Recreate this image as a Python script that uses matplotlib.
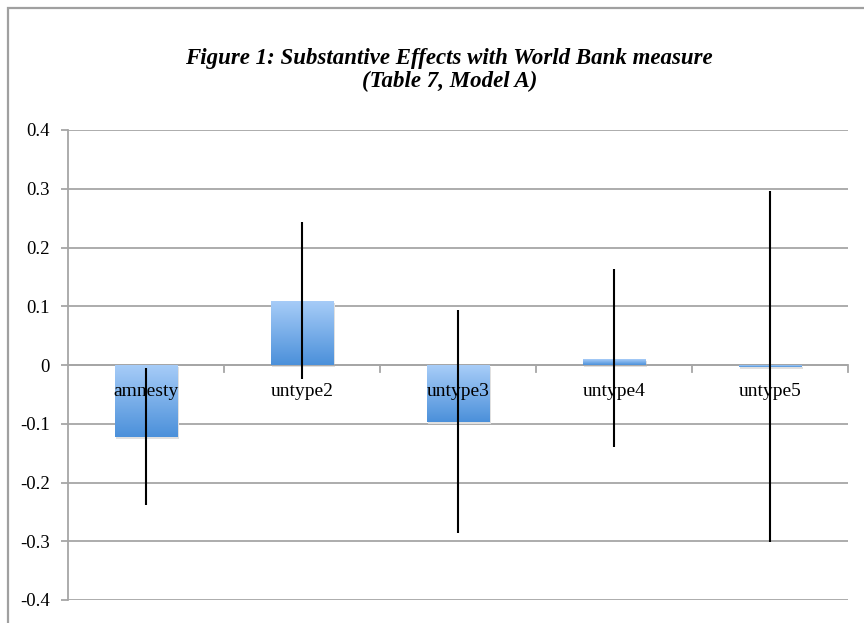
import matplotlib
matplotlib.use("Agg")
import matplotlib.pyplot as plt
import numpy as np
from matplotlib.patches import Rectangle

# values
categories = ["amnesty", "untype2", "untype3", "untype4", "untype5"]
effects = [-0.123, 0.109, -0.097, 0.010, -0.003]
upper = [-0.005, 0.243, 0.094, 0.163, 0.296]
lower = [-0.238, -0.024, -0.286, -0.140, -0.301]
yticks = [-0.4, -0.3, -0.2, -0.1, 0, 0.1, 0.2, 0.3, 0.4]
ytick_labels = ["-0.4", "-0.3", "-0.2", "-0.1", "0", "0.1", "0.2", "0.3", "0.4"]

serif = "Liberation Serif"
grid_col = "#a6a6a6"

fig = plt.figure(figsize=(8.64, 6.23), dpi=100)
# outer chart frame (only top and left visible in the crop)
fig.patches.append(Rectangle((8 / 864, -0.1), 1.2, 1 - 8 / 623 + 0.1,
                             transform=fig.transFigure, fill=False,
                             edgecolor="#a0a0a0", lw=1.6))

ax = fig.add_axes([68 / 864, 23 / 623, 780 / 864, 470 / 623])
x = np.arange(len(categories))
ax.set_xlim(-0.5, len(categories) - 0.5)
ax.set_ylim(-0.4, 0.4)

# grid
for t in yticks:
    ax.axhline(t, color=grid_col, lw=1.3, zorder=0)

# gradient bars
grad = np.linspace(0, 1, 256).reshape(-1, 1)
cmap = matplotlib.colors.LinearSegmentedColormap.from_list("bar", ["#4b90da", "#a8cdf8"])
w = 0.4
for xi, v in zip(x, effects):
    lo, hi = min(0, v), max(0, v)
    # faint shadow
    ax.add_patch(Rectangle((xi - w / 2 + 0.01, lo - 0.003), w, hi - lo,
                           facecolor="#e0e0e0", edgecolor="none", zorder=1))
    rect = Rectangle((xi - w / 2, lo), w, hi - lo, facecolor="none", edgecolor="none", zorder=2)
    ax.add_patch(rect)
    im = ax.imshow(grad, cmap=cmap, aspect="auto", origin="lower",
                   extent=[xi - w / 2, xi + w / 2, lo, hi], zorder=2)
    im.set_clip_path(rect)

# error lines
ax.vlines(x, lower, upper, color="black", lw=1.5, zorder=4)

# category labels just under the zero line
for xi, name in zip(x, categories):
    ax.text(xi, -0.041, name, ha="center", va="center_baseline", fontsize=14, family=serif, zorder=3)

# zero axis with tick marks at category boundaries
ax.axhline(0, color=grid_col, lw=1.3, zorder=1)
for b in np.arange(0.5, len(categories), 1.0):
    ax.plot([b, b], [0, -0.012], color=grid_col, lw=1.3, zorder=1, clip_on=False)

for s in ["top", "right", "bottom"]:
    ax.spines[s].set_visible(False)
ax.spines["left"].set_color(grid_col)
ax.spines["left"].set_linewidth(1.3)
ax.set_xticks([])
ax.set_yticks(yticks)
ax.set_yticklabels(ytick_labels, family=serif, fontsize=13.5)
ax.tick_params(axis="y", length=5, color=grid_col, width=1.3, pad=8)

fig.text(0.52, 0.8876, "Figure 1: Substantive Effects with World Bank measure\n(Table 7, Model A)",
         ha="center", va="center", fontsize=16.5, family=serif, weight="bold",
         style="italic", linespacing=1.15)

fig.savefig("out.png", dpi=100)
